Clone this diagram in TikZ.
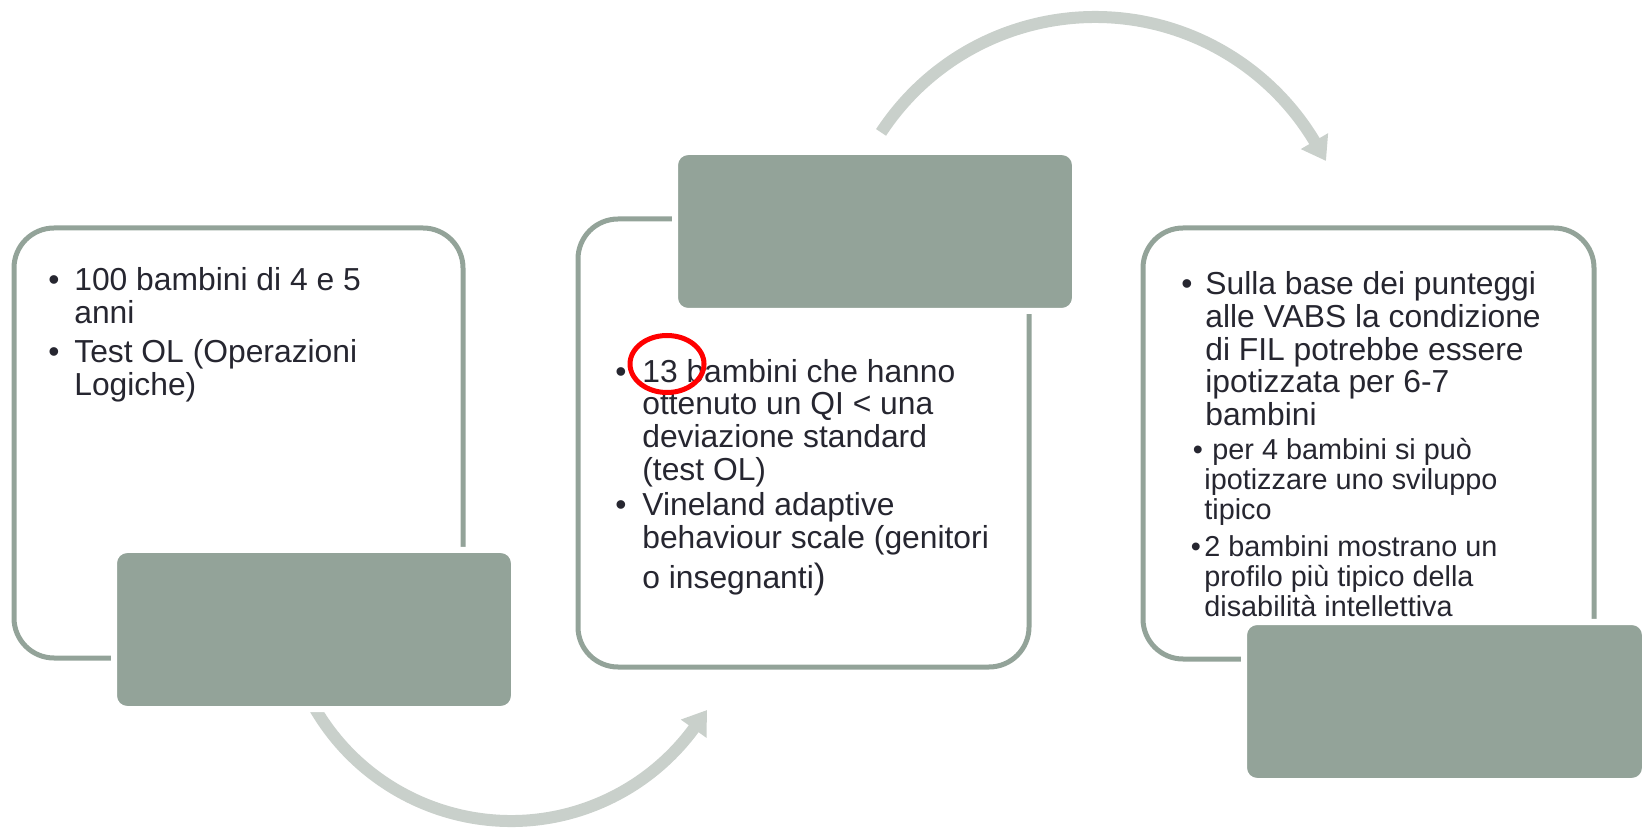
\documentclass[tikz,border=0pt]{standalone}
\usepackage{fontspec}
\setmainfont{Liberation Sans}
\usetikzlibrary{arrows.meta,positioning}
\definecolor{tabgray}{RGB}{147,163,153}
\definecolor{arrowgray}{RGB}{201,208,203}
\definecolor{txtdark}{RGB}{38,38,48}
\newcommand{\mainfs}{\fontsize{18.1pt}{18.2pt}\selectfont}
\newcommand{\subfs}{\fontsize{16.4pt}{16.5pt}\selectfont}
% lines of one bullet, baseline on the first line
\newcommand{\itemlines}[1]{\begin{tabular}[t]{@{}l@{}}#1\end{tabular}}

\tikzset{
  stagebox/.style 2 args={draw=tabgray, line width=1mm, rounded corners=8mm, inner sep=0pt,
    minimum width=#1*0.2mm, minimum height=#2*0.2mm},
  stagetab/.style 2 args={fill=tabgray, draw=white, line width=1.2mm, rounded corners=2.6mm, inner sep=0pt,
    minimum width=#1*0.2mm+1.2mm, minimum height=#2*0.2mm+1.2mm},
  cyclearrow/.style={draw=arrowgray, line width=2.4mm, -{Triangle[width=6mm, length=4.6mm]}},
  bulletdot/.style={anchor=base, inner sep=0pt, text=txtdark, font=\mainfs},
  itemtxt/.style={anchor=base west, inner sep=0pt, text=txtdark, font=\mainfs},
}

\begin{document}
\begin{tikzpicture}[x=0.2mm, y=0.2mm]
\useasboundingbox (0,0) rectangle (1645,828);

% arrows between the stages
\coordinate (loopA) at (511,234);
\coordinate (headA) at (707,118);
\coordinate (loopB) at (1095,555);
\coordinate (headB) at (1326,667);
\draw[cyclearrow] ([shift={(208:227)}]loopA) arc[start angle=208, end angle=323.6, radius=227] -- (headA);
\draw[cyclearrow] ([shift={(146.7:256)}]loopB) arc[start angle=146.7, end angle=31, radius=256] -- (headB);

% stages
\node[stagebox={449}{430}] (box1) at (238.5,385) {};
\node[stagebox={451}{448}] (box2) at (803.5,385) {};
\node[stagebox={451}{431}] (box3) at (1368.5,384.5) {};
\node[stagetab={394}{153}] (tab1) at (314,198.5) {};
\node[stagetab={394}{153}] (tab2) at (875,596.5) {};
\node[stagetab={395}{153}] (tab3) at (1444.5,126.5) {};

% first stage
\node[bulletdot] (b1a) at (54,537) {•};
\node[itemtxt] (t1a) at (74,537) {\itemlines{100 bambini di 4 e 5\\anni}};
\node[bulletdot] (b1b) at (54,465) {•};
\node[itemtxt] (t1b) at (74,465) {\itemlines{Test OL (Operazioni\\Logiche)}};

% second stage
\node[bulletdot] (b2a) at (621,445) {•};
\node[itemtxt] (t2a) at (642,445) {\itemlines{13 bambini che hanno\\ottenuto un QI < una\\deviazione standard\\(test OL)}};
\node[bulletdot] (b2b) at (621,312) {•};
\node[itemtxt] (t2b) at (642,312) {\itemlines{Vineland adaptive\\behaviour scale (genitori\\[2.5pt]o insegnanti{\fontsize{20pt}{20pt}\selectfont)}}};

% third stage
\node[bulletdot] (b3a) at (1187,533) {•};
\node[itemtxt] (t3a) at (1205,533) {\itemlines{Sulla base dei punteggi\\alle VABS la condizione\\di FIL potrebbe essere\\ipotizzata per 6-7\\bambini}};
\node[bulletdot, font=\subfs] (b3b) at (1198,368) {•};
\node[itemtxt, font=\subfs] (t3b) at (1204,368) {\itemlines{\hspace*{0.28em}per 4 bambini si può\\ipotizzare uno sviluppo\\tipico}};
\node[bulletdot, font=\subfs] (b3c) at (1196,271) {•};
\node[itemtxt, font=\subfs] (t3c) at (1204,271) {\itemlines{2 bambini mostrano un\\profilo più tipico della\\disabilità intellettiva}};

% mark
\draw[red, line width=1mm] (667,464) ellipse [x radius=37, y radius=28.5];
\end{tikzpicture}
\end{document}
